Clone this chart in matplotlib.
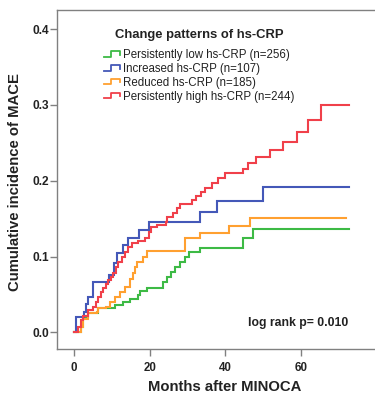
import matplotlib
matplotlib.use("Agg")
import matplotlib.pyplot as plt
from matplotlib.legend_handler import HandlerBase
from matplotlib.lines import Line2D

plt.rcParams['font.family'] = ['Liberation Sans', 'DejaVu Sans']

# ---- data (months, cumulative incidence after each step) ----
green_t = [0, 1.8, 2.3, 3.8, 6.4, 10.8, 13.0, 14.8, 17.0, 17.4, 19.2, 23.6, 24.5, 25.6,
           26.7, 28.0, 29.4, 30.5, 33.3, 44.8, 47.3, 72.8]
green_v = [0, 0.0074, 0.0206, 0.025, 0.0316, 0.036, 0.040, 0.0435, 0.049, 0.054, 0.059,
           0.067, 0.073, 0.080, 0.0866, 0.093, 0.099, 0.106, 0.111, 0.124, 0.136, 0.136]

blue_t = [0, 0.44, 2.6, 3.2, 3.8, 5.1, 9.2, 10.6, 11.3, 13.0, 14.4, 17.3, 19.9, 33.3,
          37.7, 49.9, 72.8]
blue_v = [0, 0.0198, 0.027, 0.038, 0.047, 0.067, 0.0756, 0.091, 0.104, 0.115, 0.125,
          0.135, 0.146, 0.159, 0.173, 0.192, 0.192]

orange_t = [0, 1.8, 2.3, 3.8, 6.0, 6.4, 8.6, 9.5, 10.8, 12.2, 13.5, 14.8, 15.5, 16.1,
            16.7, 18.3, 19.2, 29.3, 33.3, 41.1, 46.6, 72.0]
orange_v = [0, 0.0074, 0.017, 0.025, 0.027, 0.0316, 0.034, 0.040, 0.047, 0.0536, 0.060,
            0.070, 0.078, 0.0866, 0.093, 0.0997, 0.1076, 0.124, 0.131, 0.140, 0.151, 0.151]

red_t = [0, 1.1, 1.8, 2.3, 3.8, 5.1, 5.8, 6.4, 7.1, 7.8, 8.5, 9.1, 9.7, 10.4, 11.1, 11.7,
         12.6, 13.5, 14.4, 15.3, 17.0, 18.8, 19.9, 20.5, 21.9, 24.3, 24.7, 26.3, 27.3,
         28.0, 31.1, 32.4, 33.5, 34.7, 36.4, 38.1, 39.9, 44.8, 46.1, 48.1, 51.9, 55.4,
         59.0, 62.0, 65.2, 72.8]
red_v = [0, 0.0074, 0.016, 0.0215, 0.0294, 0.034, 0.040, 0.047, 0.0536, 0.058, 0.0637,
         0.069, 0.0733, 0.0786, 0.0857, 0.093, 0.0997, 0.106, 0.113, 0.1174, 0.121, 0.124,
         0.133, 0.139, 0.1416, 0.146, 0.1525, 0.157, 0.1636, 0.169, 0.1745, 0.180, 0.1855,
         0.191, 0.1966, 0.203, 0.210, 0.216, 0.224, 0.2317, 0.2405, 0.2505, 0.264, 0.280,
         0.300, 0.300]

labels = ["Persistently low hs-CRP (n=256)", "Increased hs-CRP (n=107)",
          "Reduced hs-CRP (n=185)", "Persistently high hs-CRP (n=244)"]
colors = ["#3dba45", "#4458b8", "#ffa030", "#f0404a"]

x_ticks = [0, 20, 40, 60]
y_ticks = [0.0, 0.1, 0.2, 0.3, 0.4]

# ---- figure ----
fig = plt.figure(figsize=(3.75, 3.96), dpi=100)
ax = fig.add_axes([57.3 / 375, 1 - 349 / 396, 1 - 57.3 / 375, (349 - 10) / 396])

series = [(green_t, green_v), (blue_t, blue_v), (orange_t, orange_v), (red_t, red_v)]
for (t, v), c in zip(series, colors):
    ax.step(t, v, where='post', color=c, lw=1.5, solid_joinstyle='miter')

ax.set_xlim(-4.4, 79.6)
ax.set_ylim(-0.022, 0.4252)
ax.set_xticks(x_ticks)
ax.set_yticks(y_ticks)
ax.set_xticklabels([str(x) for x in x_ticks], fontweight='bold', fontsize=8.3)
ax.set_yticklabels([f"{y:.1f}" for y in y_ticks], fontweight='bold', fontsize=8.6)

spine_c = "#808080"
for s in ['left', 'bottom', 'top']:
    ax.spines[s].set_color(spine_c)
    ax.spines[s].set_linewidth(1.0)
ax.spines['right'].set_visible(False)
ax.tick_params(axis='both', colors=spine_c, length=5, width=1.0, labelcolor='#222222')
ax.tick_params(axis='x', pad=4.3)
ax.tick_params(axis='y', pad=1)

ax.set_xlabel("Months after MINOCA", fontsize=10.7, fontweight='bold', color='#222222')
ax.set_ylabel("Cumulative incidence of MACE", fontsize=10.7, fontweight='bold', color='#222222')
ax.xaxis.set_label_coords((225 - 57.3) / (375 - 57.3), (349 - 387) / 339, transform=ax.transAxes)
ax.xaxis.label.set_va('center')
ax.yaxis.set_label_coords((15 - 57.3) / (375 - 57.3), (349 - 182) / 339, transform=ax.transAxes)
ax.yaxis.label.set_va('center')

ax.text((298 - 57.3) / (375 - 57.3), (349 - 323) / 339, "log rank p= 0.010",
        transform=ax.transAxes, ha='center', va='center', fontsize=8.8,
        fontweight='bold', color='#222222')


class StepHandler(HandlerBase):
    def create_artists(self, legend, orig_handle, xdescent, ydescent, width, height,
                       fontsize, trans):
        x0 = -xdescent
        y0 = -ydescent
        xs = [x0, x0 + 0.45 * width, x0 + 0.45 * width, x0 + width, x0 + width]
        ys = [y0 + 0.2 * height, y0 + 0.2 * height, y0 + 0.85 * height,
              y0 + 0.85 * height, y0 + 0.45 * height]
        ln = Line2D(xs, ys, color=orig_handle.get_color(), lw=1.3, transform=trans)
        return [ln]


handles = [Line2D([], [], color=c) for c in colors]
leg = fig.legend(handles, labels, handler_map={Line2D: StepHandler()},
                 loc='upper center', bbox_to_anchor=(199 / 375, 1 - 29 / 396),
                 frameon=False, fontsize=8.3, title="Change patterns of hs-CRP",
                 title_fontproperties={'weight': 'bold', 'size': 9.4},
                 handlelength=1.4, handletextpad=0.22, labelspacing=0.16,
                 borderpad=0, borderaxespad=0)
leg._legend_box.sep = 6
for txt in leg.get_texts():
    txt.set_color('#222222')
leg.get_title().set_color('#222222')

fig.savefig("out.png", dpi=100, facecolor='white')
